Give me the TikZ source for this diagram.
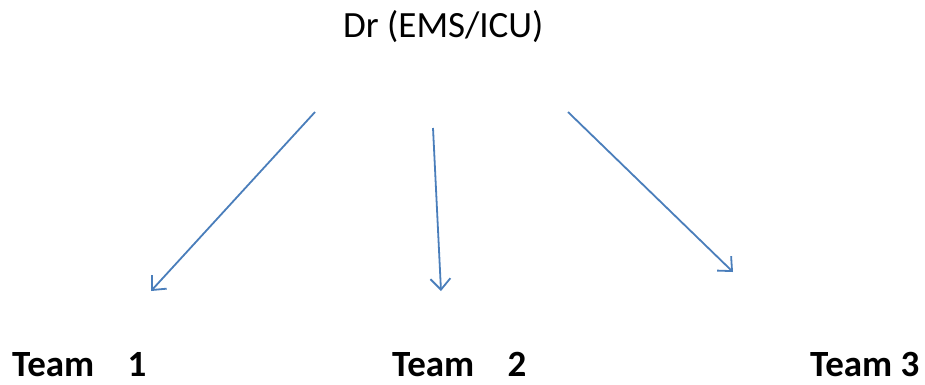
\documentclass[tikz,border=0pt]{standalone}
\usepackage{fontspec}
\setmainfont{Carlito}
\usepackage{tikz}
\usetikzlibrary{arrows.meta, positioning}
\definecolor{officeblue}{RGB}{74,126,187}

\begin{document}
\begin{tikzpicture}[
            x=1pt, y=-1pt,
            lbl/.style={anchor=base west, inner sep=0pt, font=\fontsize{37}{40}\selectfont},
            team/.style={lbl, text depth=0pt, font=\fontsize{37}{40}\selectfont\bfseries},
            arrow/.style={-{Straight Barb[length=11pt, width=20pt]}, officeblue, line width=1.8pt}
        ]
        \useasboundingbox (0,0) rectangle (925,384);

        % Nodes
        \node[lbl] (dr) at (343,37) {Dr (EMS/ICU)};
        \node[team] (team1) at (12,376) {Team\hspace{0.9em}1};
        \node[team] (team2) at (392,376) {Team\hspace{0.9em}2};
        \node[team] (team3) at (810,376) {Team 3};

        % Arrow ends
        \coordinate (from1) at (315,112);
        \coordinate (to1) at (151,291);
        \coordinate (from2) at (433,128);
        \coordinate (to2) at (441,291);
        \coordinate (from3) at (568,112);
        \coordinate (to3) at (733,272);

        % Arrows
        \draw[arrow] (from1) -- (to1);
        \draw[arrow] (from2) -- (to2);
        \draw[arrow] (from3) -- (to3);

    \end{tikzpicture}
\end{document}
